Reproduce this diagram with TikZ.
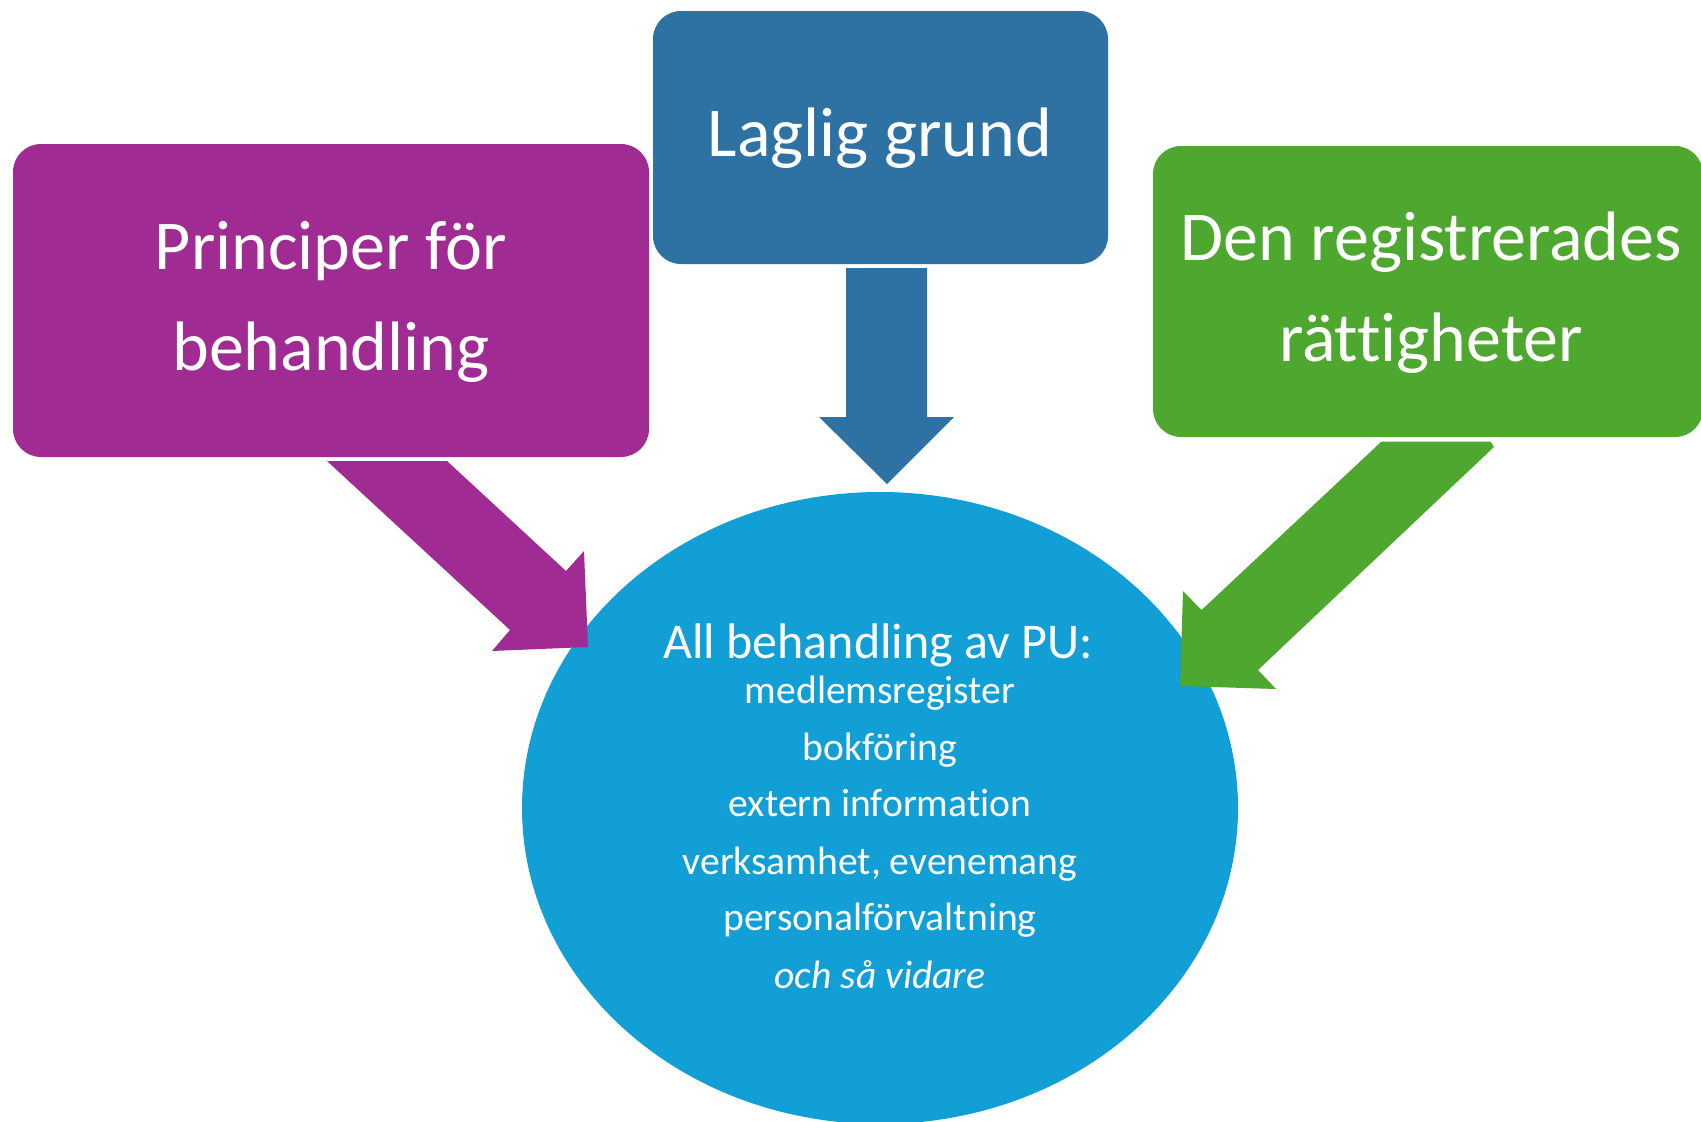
\documentclass[tikz,border=0pt]{standalone}
\usepackage{fontspec}
\setmainfont[Ligatures={NoCommon}]{Carlito}
\usetikzlibrary{shapes.geometric}
\definecolor{cpurple}{HTML}{A02B93}
\definecolor{cblue}{HTML}{2E72A4}
\definecolor{cgreen}{HTML}{4EA72E}
\definecolor{clight}{HTML}{119FD6}
\begin{document}
\begin{tikzpicture}[x=1pt,y=-1pt,
  box/.style={rectangle, rounded corners=28pt, inner sep=0pt},
  big/.style={text=white, font=\fontsize{70}{84}\selectfont, anchor=base, inner sep=0pt},
  mid/.style={text=white, font=\fontsize{50}{60}\selectfont, anchor=base, inner sep=0pt},
  small/.style={text=white, font=\fontsize{39.6}{47}\selectfont, anchor=base, inner sep=0pt}]
\useasboundingbox[fill=white] (0,0) rectangle (1701,1122);

% boxes
\node[box, fill=cpurple, minimum width=636pt, minimum height=313pt] (princ) at (331,300.5) {};
\node[box, fill=cblue, minimum width=455pt, minimum height=253pt] (laglig) at (880.5,137.5) {};
\node[box, fill=cgreen, minimum width=550pt, minimum height=291pt] (rights) at (1428,291.5) {};

% centre ellipse
\node[ellipse, fill=clight, minimum width=716pt, minimum height=632pt, inner sep=0pt] (all) at (880,808) {};

% block arrows
\fill[cblue] (846,268) -- (927,268) -- (927,417) -- (954,417) -- (887,484) -- (819,417) -- (846,417) -- cycle;
\fill[cpurple] (327,461) -- (447,461) -- (566,571) -- (584,551) -- (588,647) -- (492,651) -- (510,630) -- cycle;
\fill[cgreen] (1381.5,441.5) -- (1490.6,441.5) -- (1494,447) -- (1258,670) -- (1276,689) -- (1180,686) -- (1183,591) -- (1201.5,610) -- cycle;

% texts
\node[big] (t1a) at (331,269) {Principer för};
\node[big] (t1b) at (331,370) {behandling};
\node[big] (t2) at (880,156) {Laglig grund};
\node[big] (t3a) at (1431,260) {Den registrerades};
\node[big] (t3b) at (1431,361) {rättigheter};

\node[mid] (h) at (878,658) {All behandling av PU:};
\node[small] (l1) at (880,703) {medlemsregister};
\node[small] (l2) at (880,760.5) {bokföring};
\node[small] (l3) at (880,816.6) {extern information};
\node[small] (l4) at (880,874) {verksamhet, evenemang};
\node[small] (l5) at (880,930) {personalförvaltning};
\node[small] (l6) at (880,988) {\itshape och så vidare};
\end{tikzpicture}
\end{document}
